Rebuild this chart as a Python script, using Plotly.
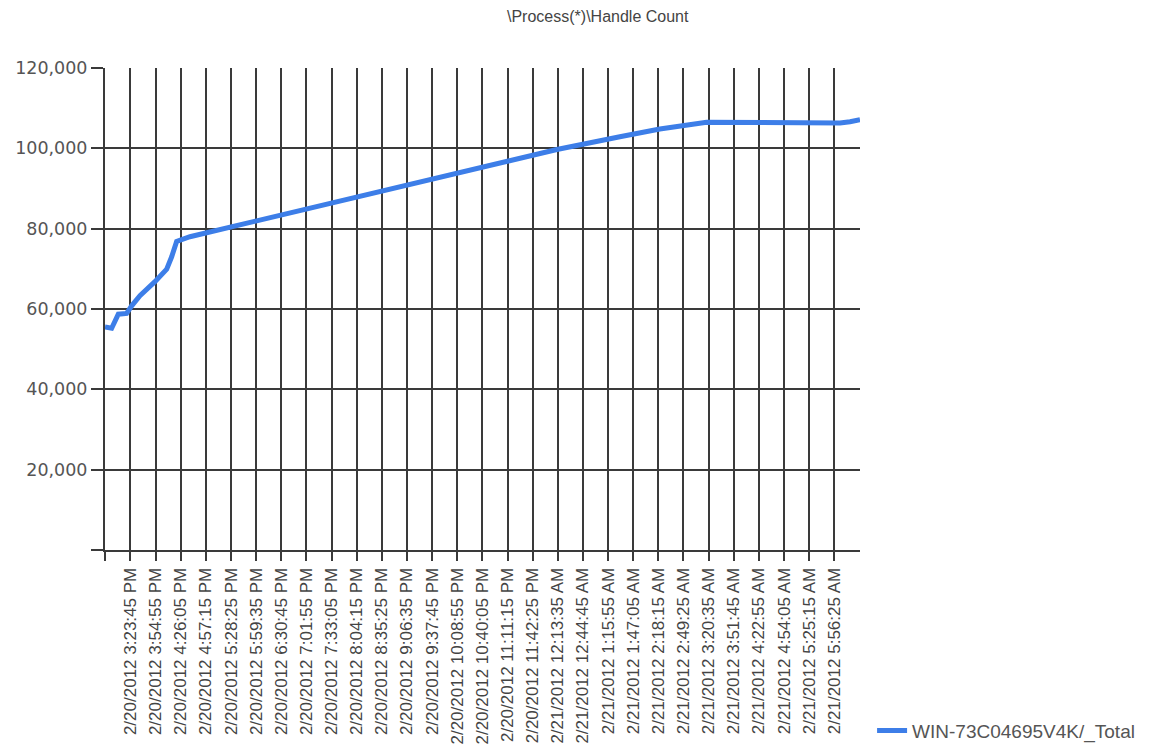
import plotly.graph_objects as go

# ---- data ----
times = [
    "2012-02-20 14:52:10", "2012-02-20 15:00:25", "2012-02-20 15:08:40",
    "2012-02-20 15:19:00", "2012-02-20 15:25:15", "2012-02-20 15:35:30",
    "2012-02-20 15:54:05", "2012-02-20 16:08:40", "2012-02-20 16:14:50",
    "2012-02-20 16:21:00", "2012-02-20 16:37:30", "2012-02-20 16:58:15",
    "2012-02-20 17:27:05", "2012-02-20 17:39:30", "2012-02-20 19:59:35",
    "2012-02-20 22:37:00", "2012-02-21 00:12:30", "2012-02-21 01:30:35",
    "2012-02-21 02:20:10", "2012-02-21 03:18:05", "2012-02-21 04:36:45",
    "2012-02-21 06:03:35", "2012-02-21 06:16:00", "2012-02-21 06:28:20",
]
handles = [
    55500, 55200, 58700,
    58900, 60800, 63300,
    66800, 69900, 73000,
    76800, 78000, 79000,
    80100, 80800, 87700,
    95300, 99700, 102900,
    104800, 106500, 106400,
    106300, 106600, 107100,
]
series_name = "WIN-73C04695V4K/_Total"
title_text = "\\Process(*)\\Handle Count"

tick_times = [
    "2012-02-20 14:52:10",
    "2012-02-20 15:23:45", "2012-02-20 15:54:55", "2012-02-20 16:26:05",
    "2012-02-20 16:57:15", "2012-02-20 17:28:25", "2012-02-20 17:59:35",
    "2012-02-20 18:30:45", "2012-02-20 19:01:55", "2012-02-20 19:33:05",
    "2012-02-20 20:04:15", "2012-02-20 20:35:25", "2012-02-20 21:06:35",
    "2012-02-20 21:37:45", "2012-02-20 22:08:55", "2012-02-20 22:40:05",
    "2012-02-20 23:11:15", "2012-02-20 23:42:25", "2012-02-21 00:13:35",
    "2012-02-21 00:44:45", "2012-02-21 01:15:55", "2012-02-21 01:47:05",
    "2012-02-21 02:18:15", "2012-02-21 02:49:25", "2012-02-21 03:20:35",
    "2012-02-21 03:51:45", "2012-02-21 04:22:55", "2012-02-21 04:54:05",
    "2012-02-21 05:25:15", "2012-02-21 05:56:25",
]
tick_labels = [
    "",
    "2/20/2012 3:23:45 PM", "2/20/2012 3:54:55 PM", "2/20/2012 4:26:05 PM",
    "2/20/2012 4:57:15 PM", "2/20/2012 5:28:25 PM", "2/20/2012 5:59:35 PM",
    "2/20/2012 6:30:45 PM", "2/20/2012 7:01:55 PM", "2/20/2012 7:33:05 PM",
    "2/20/2012 8:04:15 PM", "2/20/2012 8:35:25 PM", "2/20/2012 9:06:35 PM",
    "2/20/2012 9:37:45 PM", "2/20/2012 10:08:55 PM", "2/20/2012 10:40:05 PM",
    "2/20/2012 11:11:15 PM", "2/20/2012 11:42:25 PM", "2/21/2012 12:13:35 AM",
    "2/21/2012 12:44:45 AM", "2/21/2012 1:15:55 AM", "2/21/2012 1:47:05 AM",
    "2/21/2012 2:18:15 AM", "2/21/2012 2:49:25 AM", "2/21/2012 3:20:35 AM",
    "2/21/2012 3:51:45 AM", "2/21/2012 4:22:55 AM", "2/21/2012 4:54:05 AM",
    "2/21/2012 5:25:15 AM", "2/21/2012 5:56:25 AM",
]
y_ticks = [0, 20000, 40000, 60000, 80000, 100000, 120000]
y_labels = ["", "20,000", "40,000", "60,000", "80,000", "100,000", "120,000"]

x_range = ["2012-02-20 14:52:10", "2012-02-21 06:28:20"]

fig = go.Figure()
fig.add_trace(go.Scatter(
    x=times, y=handles, mode="lines", name=series_name,
    line=dict(color="#3d7ee8", width=5),
))

grid_col = "#3a3a3a"
# page body has an 8px margin, so the figure is made 8px smaller and shifted
W, H = 1149, 736
L, T = 97, 60
plot_right, plot_bottom = 852, 542
fig.update_layout(
    width=W, height=H,
    margin=dict(l=L, r=W - plot_right, t=T, b=H - plot_bottom, autoexpand=False),
    paper_bgcolor="white", plot_bgcolor="white",
    showlegend=True,
    legend=dict(x=1.016, y=-0.375, xanchor="left", yanchor="middle",
                font=dict(family="Liberation Sans", size=19, color="#555555"),
                bgcolor="rgba(0,0,0,0)"),
    xaxis=dict(
        type="date", range=x_range, automargin=False,
        tickmode="array", tickvals=tick_times, ticktext=tick_labels,
        tickangle=-90,
        tickfont=dict(family="Liberation Sans", size=17, color="#444444"),
        showgrid=True, gridcolor=grid_col, gridwidth=2,
        showline=True, linecolor=grid_col, linewidth=2,
        ticks="outside", ticklen=9, tickwidth=2, tickcolor=grid_col,
        zeroline=False,
    ),
    yaxis=dict(
        range=[0, 120000], automargin=False,
        tickmode="array", tickvals=y_ticks, ticktext=y_labels,
        tickfont=dict(family="DejaVu Sans", size=17.5, color="#555555"),
        showgrid=True, gridcolor=grid_col, gridwidth=2,
        showline=True, linecolor=grid_col, linewidth=2,
        ticks="outside", ticklen=12, tickwidth=2, tickcolor=grid_col,
        zeroline=False,
    ),
    annotations=[dict(
        text=title_text, xref="paper", yref="paper",
        x=(590 - L) / (plot_right - L), y=(plot_bottom - 9) / (plot_bottom - T),
        xanchor="center", yanchor="middle",
        showarrow=False,
        font=dict(family="Liberation Sans", size=16, color="#444444"),
    )],
)

fig.write_html("out.html")
